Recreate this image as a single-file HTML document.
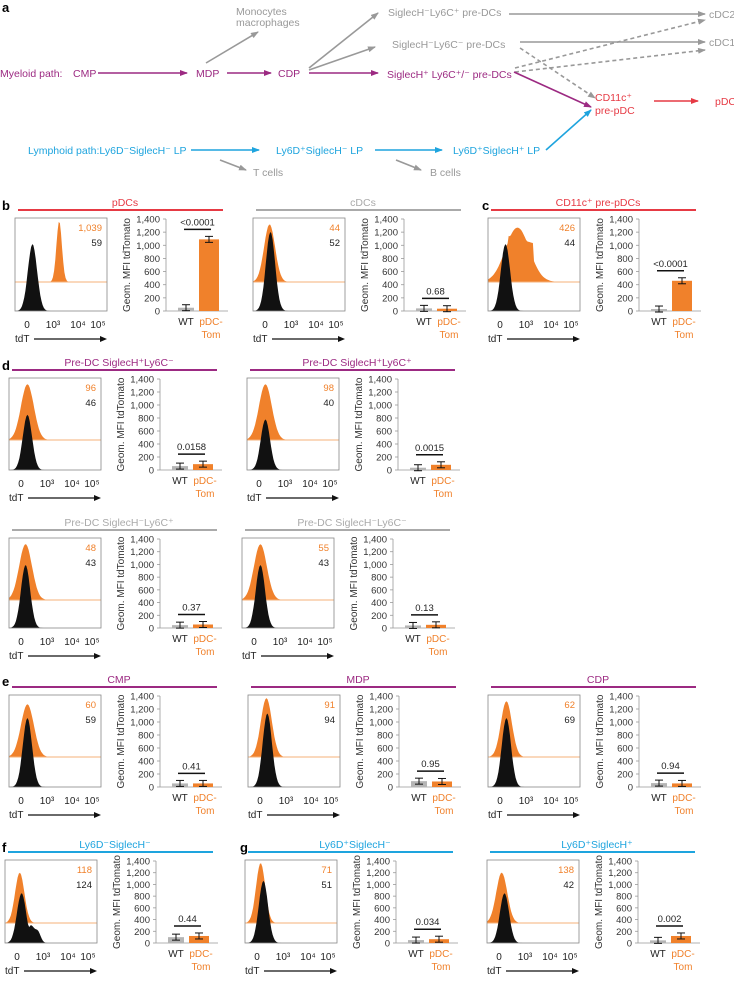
<!DOCTYPE html>
<html><head><meta charset="utf-8"><style>
body{margin:0;background:#fff}
svg{display:block;font-family:"Liberation Sans","DejaVu Sans",sans-serif}
</style></head><body>
<svg id="fig" width="734" height="983" viewBox="0 0 734 983" xmlns="http://www.w3.org/2000/svg">
<defs>
<marker id="ag" markerWidth="8" markerHeight="6" refX="7" refY="3" orient="auto" markerUnits="userSpaceOnUse"><path d="M0,0L8,3L0,6z" fill="#999"/></marker>
<marker id="ap" markerWidth="8" markerHeight="6" refX="7" refY="3" orient="auto" markerUnits="userSpaceOnUse"><path d="M0,0L8,3L0,6z" fill="#9c2a82"/></marker>
<marker id="ab" markerWidth="8" markerHeight="6" refX="7" refY="3" orient="auto" markerUnits="userSpaceOnUse"><path d="M0,0L8,3L0,6z" fill="#1ea4de"/></marker>
<marker id="ar" markerWidth="8" markerHeight="6" refX="7" refY="3" orient="auto" markerUnits="userSpaceOnUse"><path d="M0,0L8,3L0,6z" fill="#e63a44"/></marker>
</defs>
<g font-size="10.5">
<text x="2" y="12" font-weight="bold" font-size="13">a</text>
<text x="236" y="15" fill="#999">Monocytes</text>
<text x="236" y="26" fill="#999">macrophages</text>
<text x="388" y="16" fill="#999">SiglecH⁻Ly6C⁺ pre-DCs</text>
<text x="392" y="48" fill="#999">SiglecH⁻Ly6C⁻ pre-DCs</text>
<text x="709" y="18" fill="#999">cDC2</text>
<text x="709" y="46" fill="#999">cDC1</text>
<g fill="#9c2a82">
<text x="0" y="77">Myeloid path:</text>
<text x="73" y="77">CMP</text>
<text x="196" y="77">MDP</text>
<text x="278" y="77">CDP</text>
<text x="387" y="78">SiglecH⁺ Ly6C⁺/⁻ pre-DCs</text>
</g>
<g fill="#e63a44">
<text x="595" y="101">CD11c⁺</text>
<text x="595" y="114">pre-pDC</text>
<text x="715" y="105">pDC</text>
</g>
<g fill="#1ea4de">
<text x="28" y="154">Lymphoid path:Ly6D⁻SiglecH⁻ LP</text>
<text x="276" y="154">Ly6D⁺SiglecH⁻ LP</text>
<text x="453" y="154">Ly6D⁺SiglecH⁺ LP</text>
</g>
<text x="253" y="176" fill="#999">T cells</text>
<text x="430" y="176" fill="#999">B cells</text>
<g stroke-width="1.6" fill="none">
<line x1="206" y1="63" x2="258" y2="32" stroke="#999" marker-end="url(#ag)"/>
<line x1="309" y1="68" x2="378" y2="13" stroke="#999" marker-end="url(#ag)"/>
<line x1="309" y1="70" x2="375" y2="47" stroke="#999" marker-end="url(#ag)"/>
<line x1="98" y1="73" x2="187" y2="73" stroke="#9c2a82" marker-end="url(#ap)"/>
<line x1="227" y1="73" x2="271" y2="73" stroke="#9c2a82" marker-end="url(#ap)"/>
<line x1="309" y1="73" x2="378" y2="73" stroke="#9c2a82" marker-end="url(#ap)"/>
<line x1="509" y1="14" x2="705" y2="14" stroke="#999" marker-end="url(#ag)"/>
<line x1="520" y1="42" x2="705" y2="42" stroke="#999" marker-end="url(#ag)"/>
<line x1="515" y1="68" x2="705" y2="20" stroke="#999" stroke-dasharray="4,3" marker-end="url(#ag)"/>
<line x1="515" y1="72" x2="705" y2="50" stroke="#999" stroke-dasharray="4,3" marker-end="url(#ag)"/>
<line x1="520" y1="48" x2="595" y2="98" stroke="#999" stroke-dasharray="4,3" marker-end="url(#ag)"/>
<line x1="514" y1="72" x2="591" y2="107" stroke="#9c2a82" marker-end="url(#ap)"/>
<line x1="654" y1="101" x2="698" y2="101" stroke="#e63a44" marker-end="url(#ar)"/>
<line x1="191" y1="150" x2="259" y2="150" stroke="#1ea4de" marker-end="url(#ab)"/>
<line x1="375" y1="150" x2="442" y2="150" stroke="#1ea4de" marker-end="url(#ab)"/>
<line x1="546" y1="150" x2="591" y2="110" stroke="#1ea4de" marker-end="url(#ab)"/>
<line x1="220" y1="160" x2="246" y2="170" stroke="#999" marker-end="url(#ag)"/>
<line x1="396" y1="160" x2="421" y2="170" stroke="#999" marker-end="url(#ag)"/>
</g>
</g>
<g id="panels"></g>
<g font-size="13" font-weight="bold">
<text x="2" y="210">b</text>
<text x="482" y="210">c</text>
<text x="2" y="370">d</text>
<text x="2" y="686">e</text>
<text x="2" y="852">f</text>
<text x="240" y="852">g</text>
</g>
</svg>
<script>
const panelTitles = ["pDCs","cDCs","CD11c⁺ pre-pDCs","Pre-DC SiglecH⁺Ly6C⁻","Pre-DC SiglecH⁺Ly6C⁺","Pre-DC SiglecH⁻Ly6C⁺","Pre-DC SiglecH⁻Ly6C⁻","CMP","MDP","CDP","Ly6D⁻SiglecH⁻","Ly6D⁺SiglecH⁻","Ly6D⁺SiglecH⁺"];
const wtValues = [50,40,30,60,35,45,40,55,90,60,100,50,45];
const tomValues = [1090,35,460,90,80,55,50,55,85,55,120,65,120];
const pValues = ["<0.0001","0.68","<0.0001","0.0158","0.0015","0.37","0.13","0.41","0.95","0.94","0.44","0.034","0.002"];
const orangeMFI = ["1,039","44","426","96","98","48","55","60","91","62","118","71","138"];
const blackMFI = ["59","52","44","46","40","43","43","59","94","69","124","51","42"];
const yTicks = [0,200,400,600,800,1000,1200,1400];
const yTickLabels = ["0","200","400","600","800","1,000","1,200","1,400"];
const xTickLabels = ["0","10³","10⁴","10⁵"];
// histogram peak descriptors: log-scale peak position (0..1 of box), peak height (0..1 of band)
const orangePeakPos = [0.48,0.18,0.32,0.2,0.2,0.18,0.2,0.2,0.2,0.2,0.16,0.17,0.16];
const orangePeakWidth = [0.03,0.06,0.13,0.07,0.07,0.07,0.07,0.07,0.06,0.06,0.05,0.05,0.06];
const orangePeakHeight = [0.95,0.9,0.85,0.9,0.9,0.9,0.9,0.85,0.95,0.9,0.8,0.95,0.8];
const blackPeakPos = [0.19,0.19,0.19,0.2,0.2,0.18,0.2,0.2,0.21,0.2,0.18,0.2,0.19];
const blackPeakHeight = [0.72,0.85,0.72,0.6,0.55,0.7,0.7,0.75,0.8,0.75,0.6,0.75,0.6];

const layout = [
 [15,218,93,64,"#e63a44"],[253,218,93,64,"#aaa"],[488,218,93,64,"#e63a44"],
 [9,378,92,62,"#9c2a82"],[247,378,92,62,"#9c2a82"],
 [9,538,90,62,"#aaa"],[242,538,90,62,"#aaa"],
 [9,695,92,62,"#9c2a82"],[248,695,92,62,"#9c2a82"],[488,695,92,62,"#9c2a82"],
 [5,860,83,63,"#1ea4de"],[245,860,83,63,"#1ea4de"],[487,860,83,63,"#1ea4de"]
];
const NS="http://www.w3.org/2000/svg";
const root=document.getElementById('panels');
function mk(tag,attrs,parent,txt){const e=document.createElementNS(NS,tag);for(const k in attrs)e.setAttribute(k,attrs[k]);if(txt!==undefined)e.textContent=txt;parent.appendChild(e);return e;}
const ORANGE="#f0812b";
function curve(x0,w,base,amp,pos,wid,extra){
  let d="M"+x0+","+base;
  for(let i=0;i<=80;i++){const t=i/80;let v=Math.exp(-Math.pow((t-pos)/wid,2)/2);
    if(extra)v=Math.max(v,extra(t));
    d+=" L"+(x0+t*w).toFixed(1)+","+(base-amp*v).toFixed(1);}
  return d+" L"+(x0+w)+","+base+"Z";
}
layout.forEach((L,i)=>{
  const [X,Y,H,B,col]=L;const W=92;
  const g=mk('g',{},root);
  
  
  const t=mk('text',{x:X+110,y:Y-12,'text-anchor':'middle','font-size':'10.5',fill:col},g,panelTitles[i]);
  
  
  const tl=mk('line',{x1:X+3,x2:X+208,y1:Y-8,y2:Y-8,stroke:col,'stroke-width':2},g);
  
  
  // histogram
  const hg=mk('g',{},g);
  
  
  const ob=Y+B;
  let ext=null;
  if(i===2){ext=t=>(t>0.22&&t<0.5)?0.85-(t-0.22)*0.5:0;}
  const op=mk('path',{d:curve(X,W,ob,B*orangePeakHeight[i],orangePeakPos[i],orangePeakWidth[i],ext),fill:ORANGE},hg);
  
  
  mk('line',{x1:X,x2:X+W,y1:ob,y2:ob,stroke:"#f6b17a",'stroke-width':1},hg);
  let bext=null;
  if(i===10){bext=t=>0.35*Math.exp(-Math.pow((t-0.28)/0.04,2)/2)+0.2*Math.exp(-Math.pow((t-0.36)/0.03,2)/2);}
  const bp=mk('path',{d:curve(X,W,Y+H,H*blackPeakHeight[i],blackPeakPos[i],0.05,bext),fill:"#111"},hg);
  
  
  const box=mk('rect',{x:X,y:Y,width:W,height:H,fill:'none',stroke:'#888','stroke-width':0.8},hg);
  
  
  const on=mk('text',{x:X+W-5,y:Y+13,'text-anchor':'end','font-size':'9.5',fill:ORANGE},hg,orangeMFI[i]);
  
  
  const bn=mk('text',{x:X+W-5,y:Y+28,'text-anchor':'end','font-size':'9.5',fill:'#222'},hg,blackMFI[i]);
  
  
  const xt=[12,38,63,83];
  xTickLabels.forEach((s,k)=>{const e=mk('text',{x:X+xt[k],y:Y+H+17,'text-anchor':'middle','font-size':'10',fill:'#222'},hg,s);
    
    });
  const tdt=mk('text',{x:X,y:Y+H+31,'font-size':'10',fill:'#222'},hg,'tdT');
  
  
  mk('line',{x1:X+19,x2:X+86,y1:Y+H+28,y2:Y+H+28,stroke:'#111','stroke-width':1.2},hg);
  mk('path',{d:`M${X+92},${Y+H+28} L${X+85},${Y+H+25} L${X+85},${Y+H+31}Z`,fill:'#111'},hg);
  // bar chart
  const bg=mk('g',{},g);
  
  
  const AX=X+151, y0=Y+H, y1=Y+1;
  const ys=v=>y0-(v/1400)*(y0-y1);
  mk('line',{x1:AX,x2:AX,y1:y1,y2:y0,stroke:'#999','stroke-width':0.8},bg);
  mk('line',{x1:AX,x2:AX+62,y1:y0,y2:y0,stroke:'#999','stroke-width':0.8},bg);
  yTicks.forEach((v,k)=>{mk('line',{x1:AX-3,x2:AX,y1:ys(v),y2:ys(v),stroke:'#999','stroke-width':0.8},bg);
    const e=mk('text',{x:AX-6,y:ys(v)+3.5,'text-anchor':'end','font-size':'9.5',fill:'#333'},bg,yTickLabels[k]);
    
    });
  const cy=(y0+y1)/2;
  const yt=mk('text',{x:AX-36,y:cy,'text-anchor':'middle','font-size':'10',fill:'#333',transform:`rotate(-90 ${AX-36} ${cy})`},bg,'Geom. MFI tdTomato');
  
  
  const wx=AX+20, tx=AX+43;
  const wb=mk('rect',{x:wx-8,y:ys(wtValues[i]),width:16,height:y0-ys(wtValues[i]),fill:'#b5b5b5'},bg);
  
  
  const tb=mk('rect',{x:tx-10,y:ys(tomValues[i]),width:20,height:y0-ys(tomValues[i]),fill:ORANGE},bg);
  
  
  [[wx,wtValues[i]],[tx,tomValues[i]]].forEach(([cx,v])=>{const yy=ys(v);
    mk('line',{x1:cx,x2:cx,y1:yy-3,y2:yy+3,stroke:'#111','stroke-width':1},bg);
    mk('line',{x1:cx-4,x2:cx+4,y1:yy-3,y2:yy-3,stroke:'#111','stroke-width':1},bg);
    mk('line',{x1:cx-4,x2:cx+4,y1:yy+3,y2:yy+3,stroke:'#111','stroke-width':1},bg);});
  const top=ys(Math.max(wtValues[i],tomValues[i]));
  const by=Math.min(top-10,ys(200)+4);
  mk('line',{x1:wx-2,x2:tx+2,y1:by,y2:by,stroke:'#111','stroke-width':1.5},bg);
  const pv=mk('text',{x:(wx+tx)/2,y:by-4,'text-anchor':'middle','font-size':'9.5',fill:'#222'},bg,pValues[i]);
  
  
  const l1=mk('text',{x:wx,y:y0+14,'text-anchor':'middle','font-size':'10',fill:'#222'},bg,'WT');
  
  
  const l2=mk('text',{x:tx+2,y:y0+14,'text-anchor':'middle','font-size':'10',fill:ORANGE},bg,'pDC-');
  
  
  mk('text',{x:tx+2,y:y0+27,'text-anchor':'middle','font-size':'10',fill:ORANGE},bg,'Tom');
});
</script>
</body></html>
